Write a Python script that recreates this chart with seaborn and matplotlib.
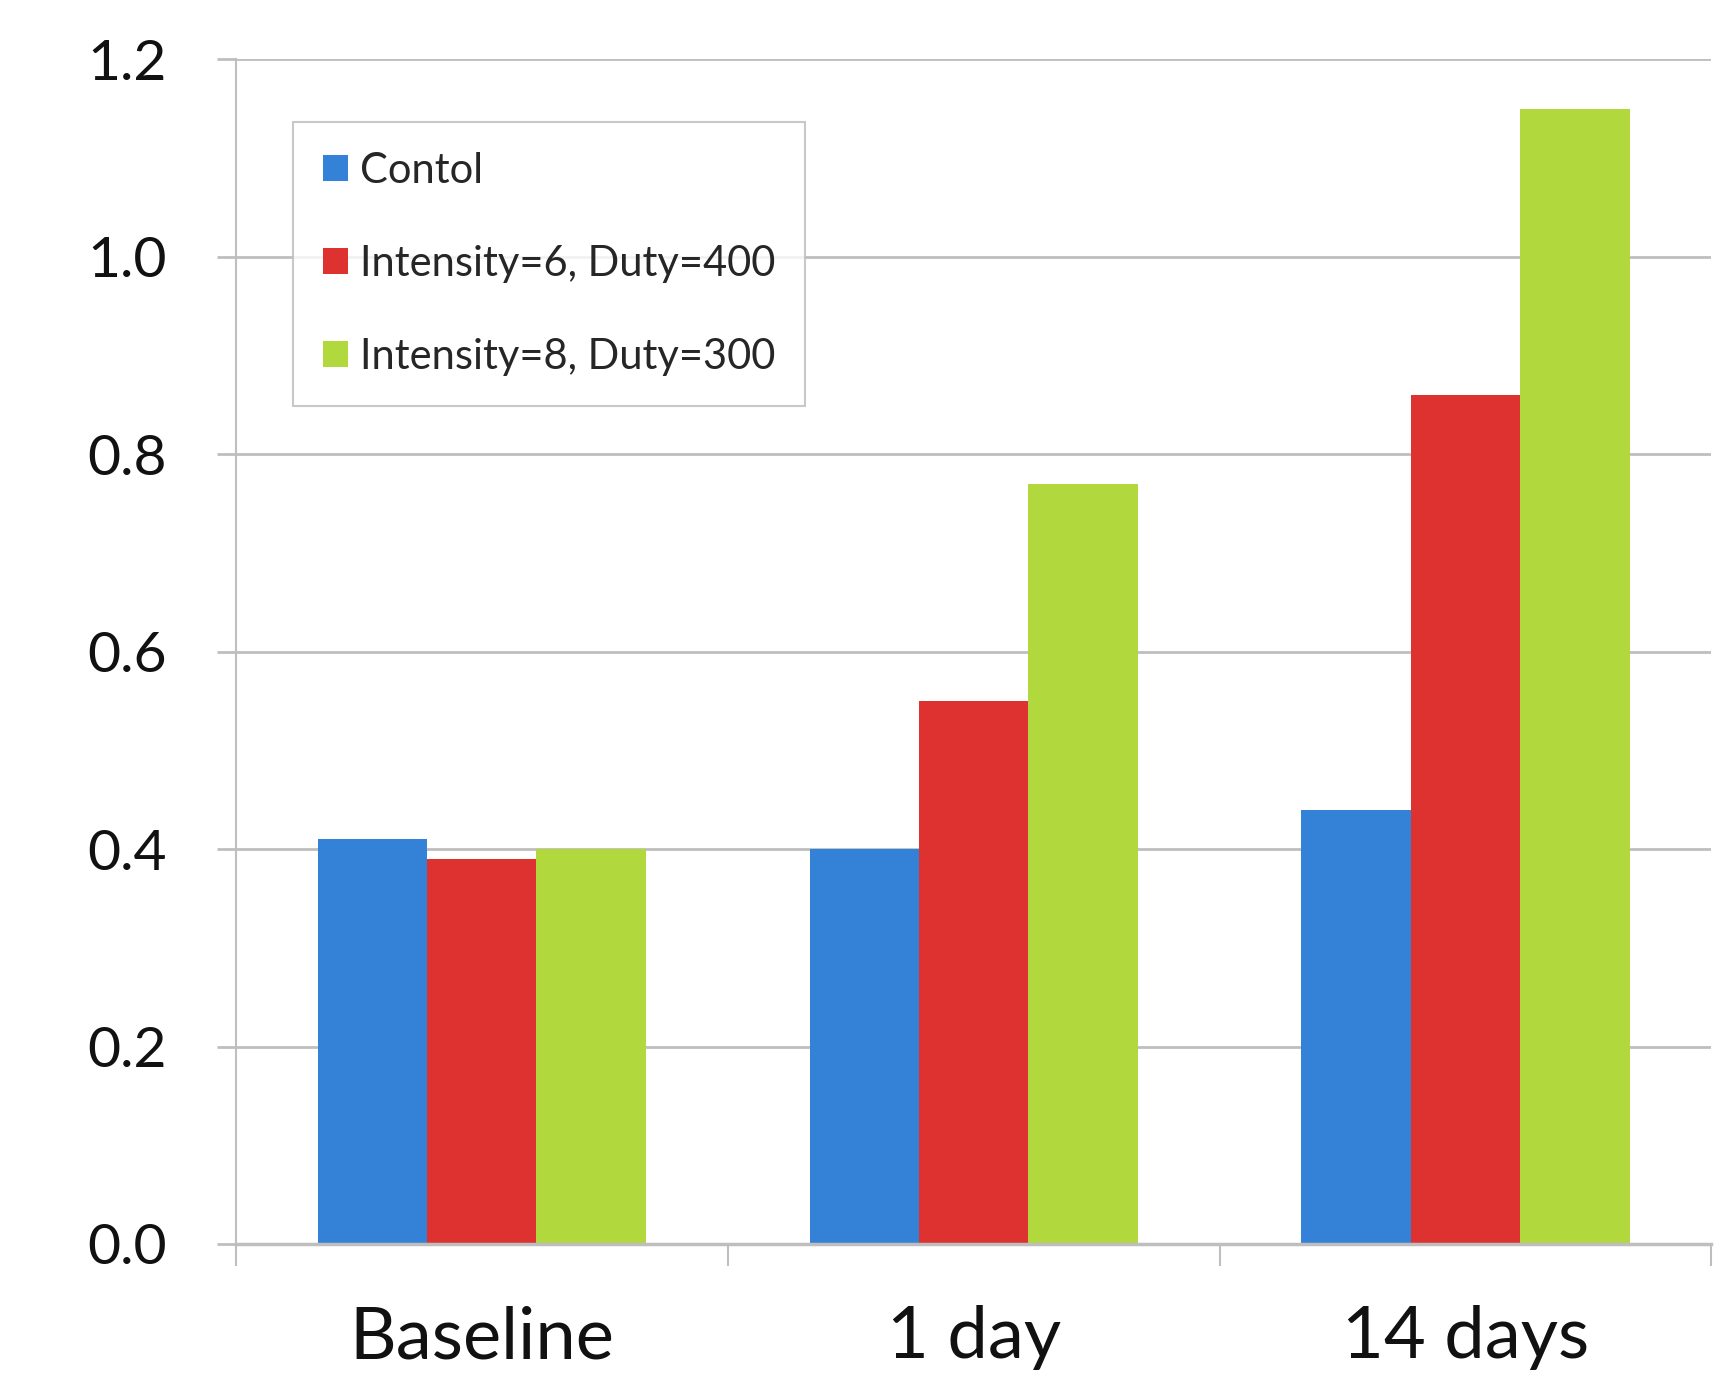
import matplotlib
matplotlib.use("Agg")
import matplotlib.pyplot as plt
import seaborn as sns
import pandas as pd

# Data
categories = ["Baseline", "1 day", "14 days"]
series = ["Contol", "Intensity=6, Duty=400", "Intensity=8, Duty=300"]
control = [0.41, 0.40, 0.44]
int6_duty400 = [0.39, 0.55, 0.86]
int8_duty300 = [0.40, 0.77, 1.15]
colors = ["#3481D8", "#DD3230", "#B1D83D"]
yticks = [0.0, 0.2, 0.4, 0.6, 0.8, 1.0, 1.2]

rows = []
for name, vals in zip(series, [control, int6_duty400, int8_duty300]):
    for cat, v in zip(categories, vals):
        rows.append({"Time": cat, "Group": name, "Value": v})
df = pd.DataFrame(rows)

sns.set_style("white")
plt.rcParams["font.family"] = ["Lato", "DejaVu Sans"]

fig = plt.figure(figsize=(17.34, 13.77), dpi=100)
ax = fig.add_axes([0.136, 0.0966, 0.851, 0.8604])

grid_col = "#BEBEBE"
ax.set_axisbelow(True)
for y in yticks:
    ax.axhline(y, color=grid_col, lw=2, zorder=0)

sns.barplot(data=df, x="Time", y="Value", hue="Group", hue_order=series,
            order=categories, palette=colors, width=0.667, gap=0,
            saturation=1, linewidth=0, ax=ax, legend=True)

ax.set_ylim(0, 1.2)
ax.set_xlim(-0.5, 2.5)
ax.set_yticks(yticks)
ax.set_yticklabels([f"{t:.1f}" for t in yticks], fontsize=41, color="#111111")
ax.tick_params(axis="y", length=14, width=2, color=grid_col, pad=36, left=True)

# category labels at centres, tick marks at category boundaries
ax.set_xticks([0, 1, 2])
ax.set_xticklabels(categories, fontsize=52, color="#111111")
ax.tick_params(axis="x", which="major", length=0, pad=44)
ax.set_xticks([-0.5, 0.5, 1.5, 2.5], minor=True)
ax.tick_params(axis="x", which="minor", length=16, width=1.5, color=grid_col, bottom=True)

ax.set_xlabel("")
ax.set_ylabel("")
for s in ["top", "right"]:
    ax.spines[s].set_visible(False)
ax.spines["left"].set_color(grid_col)
ax.spines["left"].set_linewidth(1.5)
ax.spines["bottom"].set_color(grid_col)
ax.spines["bottom"].set_linewidth(2.5)

handles, labels = ax.get_legend_handles_labels()
ax.legend(handles, labels, loc="upper left", bbox_to_anchor=(0.039, 0.947),
          borderaxespad=0, frameon=True, fancybox=False, edgecolor="#BBBBBB",
          fontsize=30, handlelength=0.58, handleheight=0.58, handletextpad=0.3,
          labelspacing=1.32, borderpad=0.72, title=None)
ax.get_legend().get_frame().set_linewidth(1.5)

fig.savefig("out.png", dpi=100, facecolor="white")
